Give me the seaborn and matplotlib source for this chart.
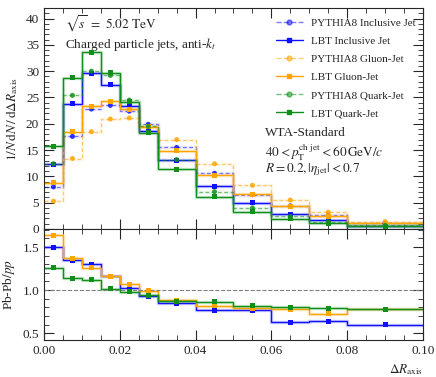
import numpy as np
import pandas as pd
import matplotlib
matplotlib.use("Agg")
import matplotlib.pyplot as plt
from matplotlib.lines import Line2D
from matplotlib.ticker import MultipleLocator
import seaborn as sns

# bin edges in Delta R_axis
edges = [0.0, 0.005, 0.01, 0.015, 0.02, 0.025, 0.03, 0.04, 0.05, 0.06, 0.07, 0.08, 0.10]

# 1/N dN/dDeltaR_axis
pythia_incl = [8.0, 17.6, 22.8, 23.5, 22.4, 19.9, 15.5, 10.6, 6.5, 4.4, 2.6, 1.1]
lbt_incl = [12.3, 23.8, 29.6, 27.4, 23.3, 18.7, 13.1, 8.1, 5.0, 2.8, 1.7, 0.66]
pythia_gluon = [5.3, 13.4, 18.5, 20.9, 21.1, 19.5, 17.0, 12.4, 8.3, 5.5, 3.2, 1.4]
lbt_gluon = [8.8, 18.5, 23.3, 24.3, 22.8, 19.4, 14.9, 10.2, 6.6, 4.3, 2.4, 1.1]
pythia_quark = [12.4, 25.4, 30.0, 29.2, 24.5, 19.5, 13.2, 7.1, 4.0, 2.4, 1.4, 0.7]
lbt_quark = [15.7, 28.8, 33.6, 29.7, 24.2, 18.3, 11.4, 6.1, 3.3, 1.9, 1.1, 0.55]

# Pb-Pb / pp ratios
ratio_incl = [1.50, 1.345, 1.30, 1.16, 1.03, 0.93, 0.845, 0.765, 0.765, 0.625, 0.64, 0.60]
ratio_gluon = [1.64, 1.37, 1.26, 1.16, 1.07, 0.99, 0.88, 0.82, 0.79, 0.78, 0.725, 0.78]
ratio_quark = [1.26, 1.14, 1.12, 1.015, 0.98, 0.94, 0.87, 0.865, 0.82, 0.80, 0.79, 0.78]

sns.set_style("ticks")
plt.rcParams['font.family'] = ['Liberation Serif', 'DejaVu Serif']
plt.rcParams['mathtext.fontset'] = 'stix'
plt.rcParams['font.size'] = 9

blue = '#1010ff'
orange = '#ffa500'
green = '#10901a'

centers = [(a + b) / 2 for a, b in zip(edges[:-1], edges[1:])]

fig = plt.figure(figsize=(4.36, 3.77), dpi=100)
ax1 = fig.add_axes([0.101, 0.3926, 0.869, 0.586])
ax2 = fig.add_axes([0.101, 0.0981, 0.869, 0.2945], sharex=ax1)

top_series = [
    ("PYTHIA8 Inclusive Jet", pythia_incl, blue, True),
    ("LBT Inclusive Jet", lbt_incl, blue, False),
    ("PYTHIA8 Gluon-Jet", pythia_gluon, orange, True),
    ("LBT Gluon-Jet", lbt_gluon, orange, False),
    ("PYTHIA8 Quark-Jet", pythia_quark, green, True),
    ("LBT Quark-Jet", lbt_quark, green, False),
]

rows = []
for name, vals, col, dashed in top_series:
    for c, v in zip(centers, vals):
        rows.append({'series': name, 'x': c, 'y': v})
df = pd.DataFrame(rows)

handles = []
for name, vals, col, dashed in top_series:
    if dashed:
        ax1.stairs(vals, edges, color=col, lw=0.9, ls=(0, (3, 2)), alpha=0.55, baseline=None)
        ax1.stairs(vals, edges, color=col, lw=2.5, alpha=0.08, baseline=None)
        mk = 'o'
    else:
        ax1.stairs(vals, edges, color=col, lw=2.5, alpha=0.18, baseline=None)
        ax1.stairs(vals, edges, color=col, lw=1.0, baseline=None)
        mk = 's'
    sub = df[df['series'] == name]
    sns.scatterplot(data=sub, x='x', y='y', ax=ax1, color=col, marker=mk, s=13,
                    edgecolor='none', alpha=0.85 if dashed else 1.0, legend=False, zorder=5)
    handles.append(Line2D([], [], color=col, ls='--' if dashed else '-', lw=1.0,
                          alpha=0.55 if dashed else 1.0, marker=mk, markersize=3.5,
                          label=name))

ax1.set_xlim(0, 0.10)
ax1.set_ylim(0, 42)
ax1.set_ylabel(r"$1/N\,\mathrm{d}N\,/\,\mathrm{d}\Delta R_{\mathrm{axis}}$", fontsize=9.5)
ax1.yaxis.set_major_locator(MultipleLocator(5))
ax1.yaxis.set_minor_locator(MultipleLocator(1))
ax1.tick_params(labelbottom=False)

ax1.legend(handles=handles, loc='upper right', frameon=False, fontsize=8,
           handlelength=2.4, handletextpad=0.7, labelspacing=0.75,
           borderaxespad=0.3, bbox_to_anchor=(1.0, 0.99))

ax1.text(0.055, 0.975, r"$\sqrt{s}\ =\ 5.02\ \mathrm{TeV}$", transform=ax1.transAxes,
         va='top', ha='left', fontsize=9.5)
ax1.text(0.055, 0.875, r"Charged particle jets, anti-$k_t$", transform=ax1.transAxes,
         va='top', ha='left', fontsize=9.5)
ax1.text(0.583, 0.46, "WTA-Standard", transform=ax1.transAxes,
         va='top', ha='left', fontsize=9.5)
ax1.text(0.583, 0.39, r"$40 < p_{\mathrm{T}}^{\mathrm{ch\ jet}} < 60\,\mathrm{GeV}/c$",
         transform=ax1.transAxes, va='top', ha='left', fontsize=9.5)
ax1.text(0.583, 0.305, r"$R = 0.2, |\eta_{\mathrm{jet}}| < 0.7$", transform=ax1.transAxes,
         va='top', ha='left', fontsize=9.5)

ratio_series = [
    ("incl", ratio_incl, blue),
    ("gluon", ratio_gluon, orange),
    ("quark", ratio_quark, green),
]
rrows = []
for name, vals, col in ratio_series:
    for c, v in zip(centers, vals):
        rrows.append({'series': name, 'x': c, 'y': v})
rdf = pd.DataFrame(rrows)

ax2.axhline(1.0, color='gray', ls='--', lw=0.8)
for name, vals, col in ratio_series:
    ax2.stairs(vals, edges, color=col, lw=2.5, alpha=0.18, baseline=None)
    ax2.stairs(vals, edges, color=col, lw=1.0, baseline=None)
    sns.scatterplot(data=rdf[rdf['series'] == name], x='x', y='y', ax=ax2, color=col,
                    marker='s', s=13, edgecolor='none', legend=False, zorder=5)

ax2.set_ylim(0.42, 1.71)
ax2.yaxis.set_major_locator(MultipleLocator(0.5))
ax2.yaxis.set_minor_locator(MultipleLocator(0.1))
ax2.xaxis.set_major_locator(MultipleLocator(0.02))
ax2.xaxis.set_minor_locator(MultipleLocator(0.005))
ax2.xaxis.set_major_formatter(matplotlib.ticker.FormatStrFormatter('%.2f'))
ax2.set_ylabel(r"Pb-Pb$/pp$", fontsize=9.5)
ax2.set_xlabel(r"$\Delta R_{\mathrm{axis}}$", fontsize=9.5, loc='right')

for ax in (ax1, ax2):
    ax.tick_params(which='both', direction='in', top=True, right=True, labelsize=9.5)
    ax.tick_params(which='major', length=7, width=0.8)
    ax.tick_params(which='minor', length=3.5, width=0.6)
    for s in ax.spines.values():
        s.set_linewidth(0.8)

fig.align_ylabels([ax1, ax2])
fig.savefig("out.png", dpi=100)
